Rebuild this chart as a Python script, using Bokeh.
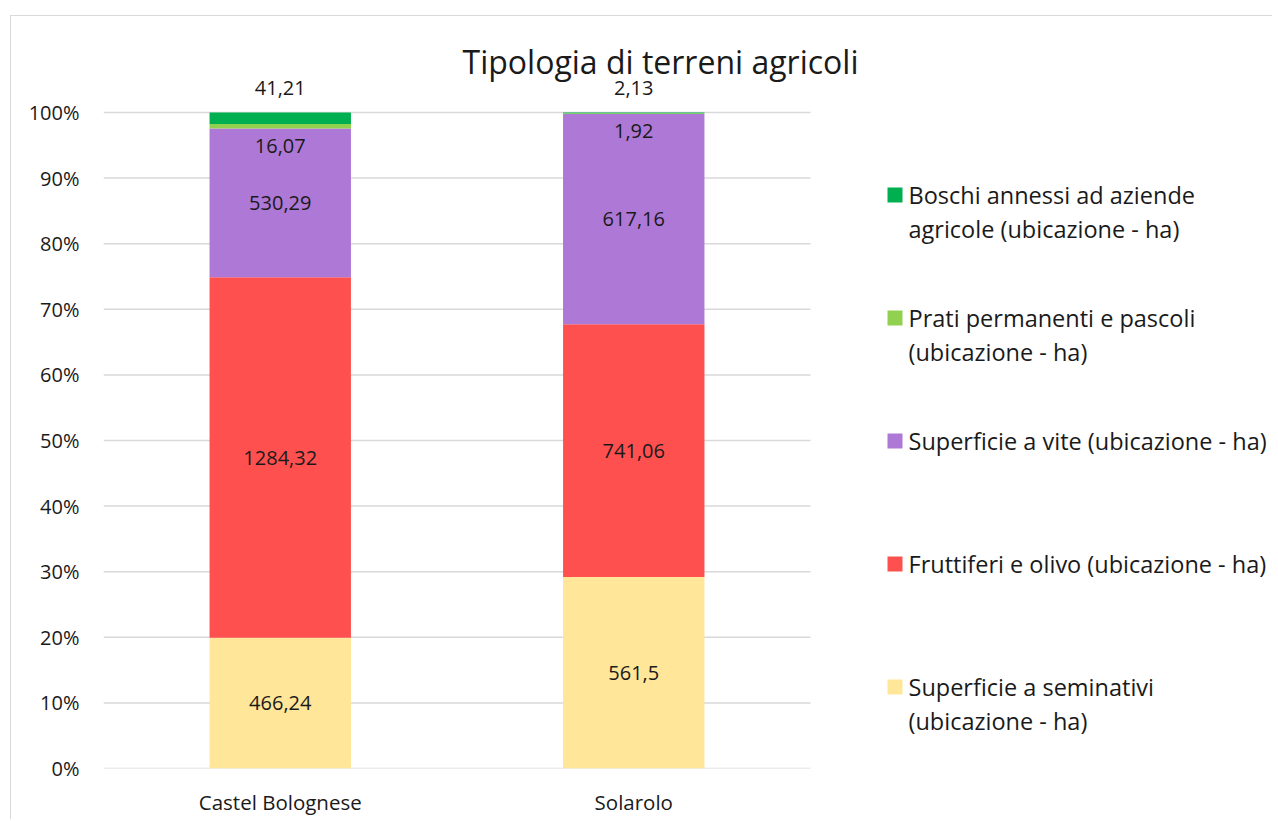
from bokeh.plotting import figure
from bokeh.models import ColumnDataSource, Range1d, Label, BoxAnnotation, FixedTicker, NumeralTickFormatter
from bokeh.core.properties import value
from bokeh.embed import file_html
from bokeh.resources import INLINE

# ---------------- data ----------------
comuni = ["Castel Bolognese", "Solarolo"]
seminativi = [466.24, 561.5]
fruttiferi = [1284.32, 741.06]
vite = [530.29, 617.16]
prati = [16.07, 1.92]
boschi = [41.21, 2.13]
series_keys = ["seminativi", "fruttiferi", "vite", "prati", "boschi"]
legend_lines = [
    ["Superficie a seminativi", "(ubicazione - ha)"],
    ["Fruttiferi e olivo (ubicazione - ha)"],
    ["Superficie a vite (ubicazione - ha)"],
    ["Prati permanenti e pascoli", "(ubicazione - ha)"],
    ["Boschi annessi ad aziende", "agricole (ubicazione - ha)"],
]
colors = ["#FFE699", "#FF5050", "#AE78D6", "#92D050", "#00B050"]
y_ticks = [0.0, 0.1, 0.2, 0.3, 0.4, 0.5, 0.6, 0.7, 0.8, 0.9, 1.0]
title_text = "Tipologia di terreni agricoli"

FONT = "Open Sans"
TXT = "#1a1a1a"
GRID = "#D9D9D9"

values = [seminativi, fruttiferi, vite, prati, boschi]
n = len(comuni)
totals = [sum(v[i] for v in values) for i in range(n)]
xpos = [i + 0.5 for i in range(n)]

W, H = 1262, 804
ML, MB = 92, 52
PX_PER_CAT = 353.5
PX_PER_UNIT_Y = 656.0
x_end = (W - ML) / PX_PER_CAT
y_end = (H - MB) / PX_PER_UNIT_Y

p = figure(x_range=Range1d(0, x_end), y_range=Range1d(0, y_end),
           width=W, height=H, output_backend="svg", toolbar_location=None,
           min_border_left=ML, min_border_right=0, min_border_top=0, min_border_bottom=MB)
p.margin = (15, 0, 0, 10)
p.styles = {"border-left": "1px solid #D9D9D9", "border-top": "1px solid #D9D9D9"}
p.outline_line_color = None
p.background_fill_color = "white"
p.border_fill_color = "white"
p.xgrid.visible = False
p.ygrid.visible = False

# gridlines restricted to the category area
p.segment(x0=[0] * len(y_ticks), x1=[n] * len(y_ticks), y0=y_ticks, y1=y_ticks,
          line_color=GRID, line_width=1.5)

# stacked bars
bottoms = [0.0] * n
label_x, label_y, label_t, label_off = [], [], [], []
for key, vals, col in zip(series_keys, values, colors):
    frac = [v / t for v, t in zip(vals, totals)]
    tops = [b + f for b, f in zip(bottoms, frac)]
    src = ColumnDataSource(dict(x=xpos, bottom=bottoms, top=tops))
    p.vbar(x="x", bottom="bottom", top="top", width=0.4, source=src,
           fill_color=col, line_color=None)
    for i in range(n):
        label_x.append(xpos[i])
        label_t.append(("%g" % vals[i]).replace(".", ","))
        if key == "boschi":
            label_y.append(tops[i]); label_off.append(-25)
        elif key == "prati":
            label_y.append(bottoms[i]); label_off.append(17)
        else:
            label_y.append((bottoms[i] + tops[i]) / 2); label_off.append(0)
    bottoms = tops

lsrc = ColumnDataSource(dict(x=label_x, y=label_y, t=label_t, off=label_off))
p.text(x="x", y="y", text="t", y_offset="off", source=lsrc, text_align="center",
       text_baseline="middle", text_font=value(FONT), text_font_size="20px", text_color=TXT)

# axes
p.yaxis.ticker = FixedTicker(ticks=y_ticks)
p.yaxis.formatter = NumeralTickFormatter(format="0%")
p.yaxis.axis_line_color = None
p.yaxis.major_tick_line_color = None
p.yaxis.minor_tick_line_color = None
p.yaxis.major_tick_out = 0
p.yaxis.major_label_standoff = 24
p.yaxis.major_label_text_font = FONT
p.yaxis.major_label_text_font_size = "20px"
p.yaxis.major_label_text_color = TXT

p.xaxis.ticker = FixedTicker(ticks=xpos)
p.xaxis.major_label_overrides = {xpos[i]: comuni[i] for i in range(n)}
p.xaxis.axis_line_color = None
p.xaxis.major_tick_line_color = None
p.xaxis.minor_tick_line_color = None
p.xaxis.major_tick_out = 0
p.xaxis.major_label_standoff = 19
p.xaxis.major_label_text_font = FONT
p.xaxis.major_label_text_font_size = "20.5px"
p.xaxis.major_label_text_color = TXT

# title (screen units: relative to frame, origin bottom-left)
p.add_layout(Label(x=557, y=707, x_units="screen", y_units="screen", text=title_text,
                   text_align="center", text_baseline="alphabetic", text_font=FONT,
                   text_font_size="32px", text_color=TXT))

# legend (top to bottom: reverse stacking order)
order = list(range(len(series_keys)))[::-1]
for j, k in enumerate(order):
    base = 566 - 123 * j
    p.add_layout(BoxAnnotation(left=784, right=799, top=base + 15, bottom=base,
                               left_units="screen", right_units="screen",
                               top_units="screen", bottom_units="screen",
                               fill_color=colors[k], fill_alpha=1.0, line_color=None))
    for m, line in enumerate(legend_lines[k]):
        p.add_layout(Label(x=805, y=base + 8 - 34 * m, x_units="screen", y_units="screen",
                           text=line, text_align="left", text_baseline="alphabetic",
                           text_font=FONT, text_font_size="23.5px", text_color=TXT))

open("out.html", "w").write(file_html(p, INLINE))
